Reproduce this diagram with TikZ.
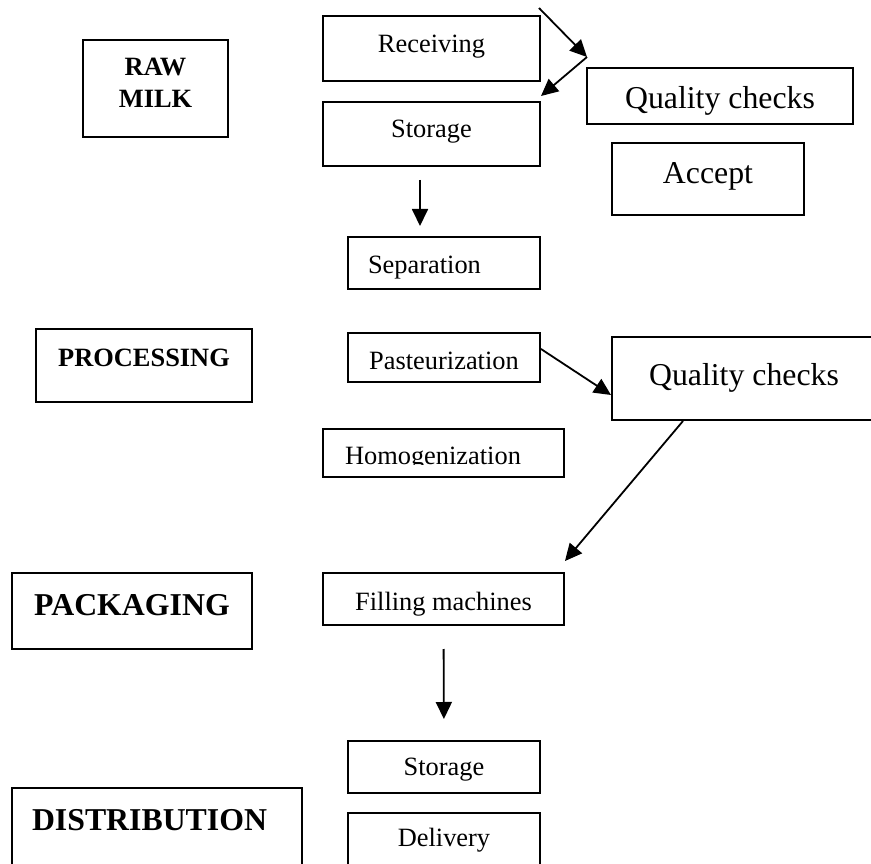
\documentclass[tikz,border=0pt]{standalone}
\usepackage{fontspec}
\setmainfont{Liberation Serif}
\usepackage{trimclip}
\usetikzlibrary{arrows.meta,calc}
\newcommand{\txtsmall}{\fontsize{26.4}{32}\selectfont}
\newcommand{\txtbig}{\fontsize{31.8}{38}\selectfont}
\tikzset{
  procbox/.style  = {draw, line width=2pt, inner sep=0pt, font=\txtsmall},
  qcbox/.style    = {draw, line width=2pt, inner sep=0pt, font=\txtbig},
  phase/.style    = {draw, line width=2pt, inner sep=0pt, font=\txtsmall\bfseries},
  phasebig/.style = {draw, line width=2pt, inner sep=0pt, font=\txtbig\bfseries},
  flow/.style     = {-{Triangle[length=17pt,width=16pt]}, line width=1.8pt},
}

\begin{document}
\begin{tikzpicture}[x=1pt,y=-1pt]
  \clip (0,0) rectangle (871,864);
  % stages on the left
  \node[phase, minimum width=145pt, minimum height=97pt, text width=145pt, align=center,
        text height=20pt, text depth=45pt] (raw) at (155.5,88.5) {RAW\\MILK};
  \node[phase, minimum width=216pt, minimum height=73pt, text height=20pt, text depth=19pt]
        (proc) at (144,365.5) {PROCESSING};
  \node[phasebig, minimum width=240pt, minimum height=76pt, text height=24pt, text depth=16pt]
        (pack) at (132,611) {PACKAGING};
  \node[phasebig, minimum width=290pt, minimum height=92pt, text width=250pt, align=left,
        text height=24pt, text depth=32pt] (dist) at (157,834) {DISTRIBUTION};
  % raw milk steps
  \node[procbox, minimum width=217pt, minimum height=65pt, text height=20pt, text depth=11pt]
        (recv) at (431.5,48.5) {Receiving};
  \node[procbox, minimum width=217pt, minimum height=64pt, text height=20pt, text depth=12pt]
        (store) at (431.5,134) {Storage};
  \node[qcbox, minimum width=266pt, minimum height=56pt, text height=30pt, text depth=4pt]
        (qcraw) at (720,96) {Quality checks};
  \node[qcbox, minimum width=192pt, minimum height=72pt, text height=24pt, text depth=15.4pt]
        (accept) at (708,179) {Accept};
  % processing steps
  \node[procbox, minimum width=192pt, minimum height=52pt, text width=152pt, align=left,
        text height=24pt, text depth=3.4pt] (sep) at (444,263) {Separation};
  \node[procbox, minimum width=192pt, minimum height=49pt, text height=26pt, text depth=3pt]
        (past) at (444,357.5) {Pasteurization};
  \node[procbox, minimum width=241pt, minimum height=48pt, text width=197pt, align=left,
        text height=24pt, text depth=2pt] (homog) at (443.5,453)
        {\clipbox{0pt {\depth} 0pt 0pt}{Homogenization}};
  \node[qcbox, minimum width=264pt, minimum height=83pt, text height=24pt, text depth=11pt]
        (qcproc) at (744,378.5) {Quality checks};
  % packaging and distribution steps
  \node[procbox, minimum width=241pt, minimum height=52pt, text height=24pt, text depth=2pt]
        (fill) at (443.5,599) {Filling machines};
  \node[procbox, minimum width=192pt, minimum height=52pt, text height=20pt, text depth=4pt]
        (store2) at (444,767) {Storage};
  \node[procbox, minimum width=192pt, minimum height=67pt, text height=20pt, text depth=21pt]
        (deliv) at (444,846.5) {Delivery};
  % connectors
  \coordinate (feed) at (539,8);
  \coordinate (check) at (587,57);
  \draw[flow] (feed) -- (check);
  \draw[flow] (check) -- ([yshift=5pt]store.north east);
  \draw[flow, shorten <=13pt, shorten >=10pt] ([xshift=-11.5pt]store.south)
        -- ([xshift=-11.5pt]store.south |- sep.north);
  \draw[flow] ([yshift=8.5pt]past.east) -- ([yshift=-16.5pt]qcproc.west);
  \draw[flow] ([xshift=-61pt]qcproc.south) -- ([yshift=11pt]fill.north east);
  \draw[flow, shorten <=23pt, shorten >=21pt] (fill.south) -- (store2.north);
\end{tikzpicture}
\end{document}
